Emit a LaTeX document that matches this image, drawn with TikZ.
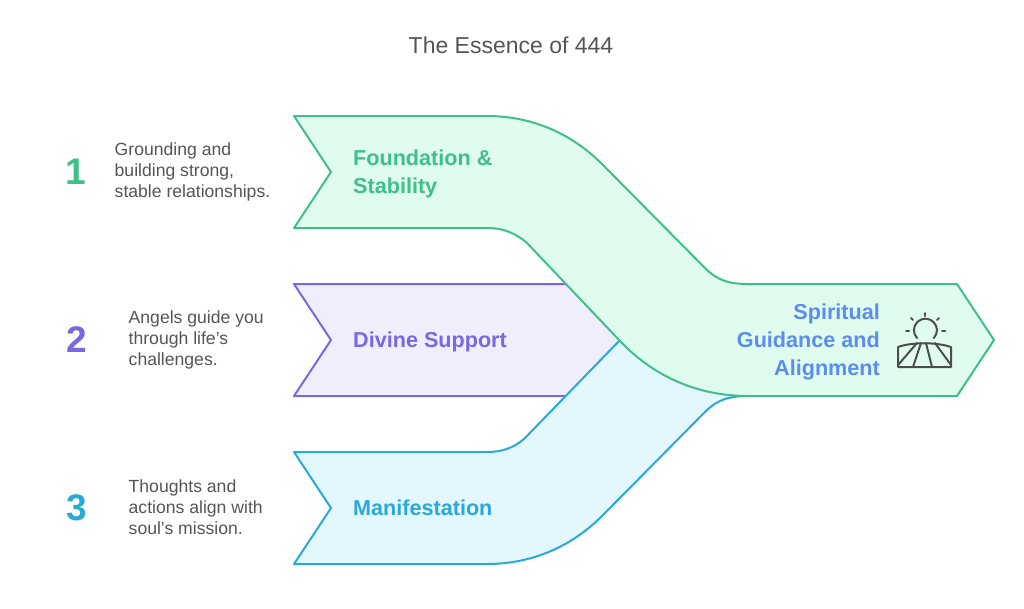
\documentclass[tikz,border=0pt]{standalone}
\usepackage{fontspec}
\setmainfont{Liberation Sans}
\definecolor{greenline}{HTML}{3FBF8A}
\definecolor{greenfill}{HTML}{E0FCEE}
\definecolor{purpleline}{HTML}{7B68E0}
\definecolor{purplefill}{HTML}{F0EEFD}
\definecolor{blueline}{HTML}{2BA9D6}
\definecolor{bluefill}{HTML}{E3F7FF}
\definecolor{endtext}{HTML}{5B8DEE}
\definecolor{bodytext}{HTML}{555555}
\definecolor{iconline}{HTML}{4A4F4C}
\tikzset{
	band/.style={line width=2pt,line join=round},
	bandlabel/.style={font=\fontsize{21.6}{28}\selectfont\bfseries,inner sep=0pt},
	numlabel/.style={font=\fontsize{37}{40}\selectfont\bfseries,inner sep=0pt},
	desc/.style={font=\fontsize{17.6}{20.8}\selectfont,text=bodytext,align=left,inner sep=0pt,anchor=west},
	icon/.style={draw=iconline,line width=2pt,line cap=round,line join=round}
}
\begin{document}
\begin{tikzpicture}[x=1pt,y=-1pt]
	\useasboundingbox (0,0) rectangle (1024,608);
	
	\node [font=\fontsize{23}{26}\selectfont,text=bodytext,inner sep=0pt] (title) at (511,45) {The Essence of 444};
	
	% bands
	\draw [band,draw=purpleline,fill=purplefill] (294,284) -- (620,284) -- (620,396) -- (294,396) -- (331,340) -- cycle;
	\draw [band,draw=blueline,fill=bluefill] (294,452) -- (487,452) .. controls (500,452) and (513,449) .. (525,438) -- (620,340) -- (748,396) .. controls (730,396) and (718,399) .. (705,412) -- (602,516) .. controls (570,548) and (530,564) .. (487,564) -- (294,564) -- (331,508) -- cycle;
	\draw [band,draw=greenline,fill=greenfill] (294,116) -- (487,116) .. controls (530,116) and (570,132) .. (602,164) -- (705,268) .. controls (718,281) and (730,284) .. (748,284) -- (957,284) -- (994,340) -- (957,396) -- (748,396) .. controls (700,396) and (655,378) .. (620,341) -- (527,243) .. controls (513,231) and (500,228) .. (487,228) -- (294,228) -- (331,172) -- cycle;
	
	% band labels
	\node [bandlabel,text=greenline,align=left,anchor=west] (foundation) at (353,174) {Foundation \&\\Stability};
	\node [bandlabel,text=purpleline,anchor=west] (divine) at (353,342) {Divine Support};
	\node [bandlabel,text=blueline,anchor=west] (manifest) at (353,508) {Manifestation};
	\node [bandlabel,text=endtext,align=right,anchor=east] (spiritual) at (880,342) {Spiritual\\Guidance and\\Alignment};
	
	% numbers
	\node [numlabel,text=greenline] (one) at (76,172) {1};
	\node [numlabel,text=purpleline] (two) at (77,340) {2};
	\node [numlabel,text=blueline] (three) at (77,508) {3};
	
	% descriptions
	\node [desc] (descone) at (114.5,172) {Grounding and\\building strong,\\stable relationships.};
	\node [desc] (desctwo) at (128.5,340) {Angels guide you\\through life's\\challenges.};
	\node [desc] (descthree) at (128.5,507) {Thoughts and\\actions align with\\soul's mission.};
	
	% sun and field
	\draw [icon] (917,338) arc [start angle=137,end angle=403,radius=11.5];
	\draw [icon] (925,313) -- (925,316);
	\draw [icon] (911,318) -- (913,320);
	\draw [icon] (939,318) -- (937,320);
	\draw [icon] (906,331) -- (909,331);
	\draw [icon] (942,331) -- (945,331);
	\draw [icon] (898,367) -- (898,347) .. controls (912,342) and (936,342) .. (951,347) -- (951,367) -- cycle;
	\draw [icon] (898,365) -- (917,343);
	\draw [icon] (913,367) -- (921,343);
	\draw [icon] (932,367) -- (926,343);
	\draw [icon] (951,365) -- (935,343);
\end{tikzpicture}
\end{document}
